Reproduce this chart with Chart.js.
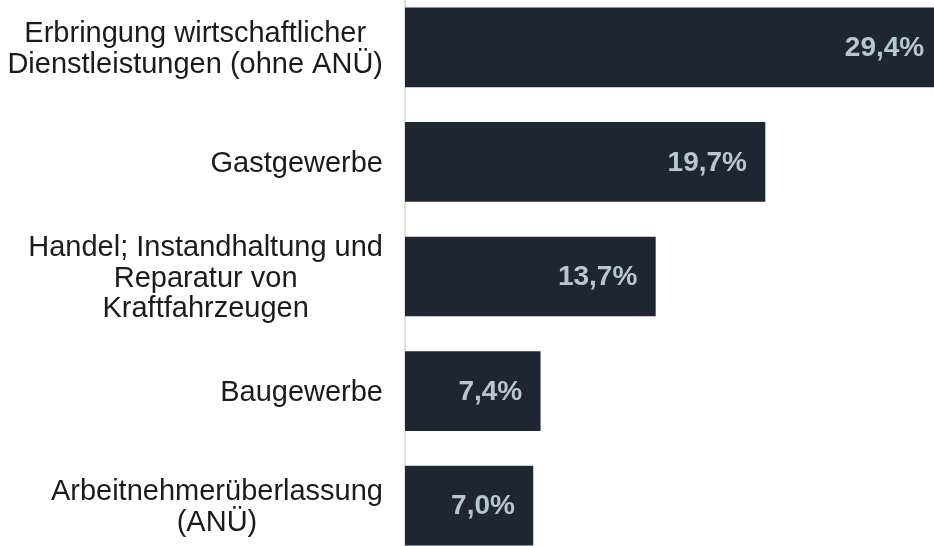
<!DOCTYPE html>
<html>
<head>
<meta charset="utf-8">
<script src="https://cdn.jsdelivr.net/npm/chart.js@4"></script>
<style>
    html, body { margin: 0; padding: 0; background: #fff; overflow: hidden; }
    #wrap { position: absolute; left: 0; top: -10px; width: 934px; height: 573px; }
</style>
</head>
<body>
<div id="wrap"><canvas id="myChart"></canvas></div>
<script>
const categories = [
    ['Erbringung wirtschaftlicher', 'Dienstleistungen (ohne ANÜ)'],
    ['Gastgewerbe'],
    ['Handel; Instandhaltung und', 'Reparatur von', 'Kraftfahrzeugen'],
    ['Baugewerbe'],
    ['Arbeitnehmerüberlassung', '(ANÜ)']
];
const shares = [29.4, 19.7, 13.7, 7.4, 7.0];
const valueLabels = ['29,4%', '19,7%', '13,7%', '7,4%', '7,0%'];

// category names: each block centred on itself, block right-aligned to the axis
const categoryLabels = {
    id: 'categoryLabels',
    afterDraw(chart) {
        const c = chart.ctx;
        const y = chart.scales.y;
        c.save();
        c.font = '29px "Liberation Sans", Arial, sans-serif';
        c.fillStyle = '#1b1b1b';
        c.textAlign = 'center';
        c.textBaseline = 'middle';
        categories.forEach(function (lines, i) {
            const w = Math.max.apply(null, lines.map(l => c.measureText(l).width));
            const cx = 383 - w / 2;
            const cy = y.getPixelForTick(i) + 2;
            const lh = 30.5;
            lines.forEach(function (l, j) {
                c.fillText(l, cx, cy + (j - (lines.length - 1) / 2) * lh);
            });
        });
        c.restore();
    }
};

// percentage labels inside the bar end
const valueTags = {
    id: 'valueTags',
    afterDatasetsDraw(chart) {
        const c = chart.ctx;
        const meta = chart.getDatasetMeta(0);
        c.save();
        c.font = 'bold 28px "Liberation Sans", Arial, sans-serif';
        c.fillStyle = '#b7c7cf';
        c.textAlign = 'right';
        c.textBaseline = 'middle';
        meta.data.forEach(function (bar, i) {
            c.fillText(valueLabels[i], bar.x - 18, bar.y + 1);
        });
        c.restore();
    }
};

const ctx = document.getElementById('myChart').getContext('2d');
const myChart = new Chart(ctx, {
    type: 'bar',
    data: {
        labels: categories,
        datasets: [{
            data: shares,
            backgroundColor: '#1f2631',
            barThickness: 79,
            borderWidth: 0
        }]
    },
    options: {
        indexAxis: 'y',
        responsive: true,
        maintainAspectRatio: false,
        animation: false,
        layout: { padding: { left: 405, right: 0, top: 0, bottom: 0 } },
        scales: {
            x: {
                display: false,
                min: 0,
                max: 28.95
            },
            y: {
                ticks: { display: false },
                grid: { display: false, drawTicks: false },
                border: { display: true, color: '#e0e0e0', width: 2 }
            }
        },
        plugins: {
            legend: { display: false },
            tooltip: { enabled: false }
        }
    },
    plugins: [categoryLabels, valueTags]
});
</script>
</body>
</html>
